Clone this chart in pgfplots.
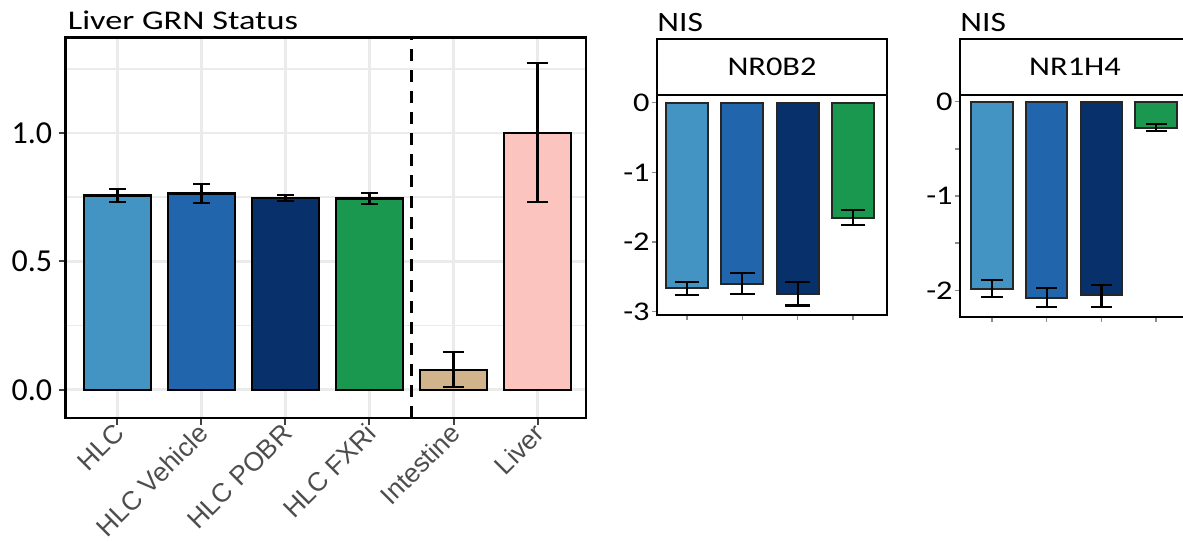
\documentclass[border=0pt]{standalone}
\usepackage{pgfplots}
\pgfplotsset{compat=1.18}
\usepackage{fontspec}
\setmainfont{Carlito}
\newfontfamily\arialfont{Liberation Sans}
\newfontfamily\panelfont[FakeStretch=1.2]{Carlito}
\newfontfamily\titlefont[FakeStretch=1.27]{Carlito}

\definecolor{cHLC}{HTML}{4393C3}
\definecolor{cVeh}{HTML}{2166AC}
\definecolor{cPOBR}{HTML}{08306B}
\definecolor{cFXR}{HTML}{1A9850}
\definecolor{cInt}{HTML}{D2B48C}
\definecolor{cLiv}{HTML}{FBC4BE}
\definecolor{gridgray}{HTML}{EBEBEB}
\definecolor{labgray}{HTML}{4D4D4D}
\definecolor{tickgray}{HTML}{8C8C8C}

\pgfplotsset{
  onebar/.style={bar shift=0pt, draw=black, line width=1.2pt},
  ebar/.style={
    error bars/y dir=both, error bars/y explicit,
    error bars/error bar style={line width=1.1pt, black},
    error bars/error mark options={rotate=90, mark size=#1, line width=1.1pt, black}},
  nispanel/.style={
    scale only axis, width=115pt, ybar, bar width=0.76,
    xtick={1,2,3,4}, xticklabels=\empty,
    axis line style={line width=1.3pt},
    tick pos=left,
    tick align=outside, major tick length=2.5pt, minor tick length=2.5pt,
    every tick/.style={tickgray, line width=0.7pt},
    yticklabel style={font=\panelfont\fontsize{13.5}{15}\selectfont, inner sep=1pt},
    clip=false},
  nisbar/.style={bar shift=0pt, draw=black!85, line width=1pt},
}

\begin{document}
\begin{tikzpicture}[x=1pt,y=1pt]
\useasboundingbox (0,0) rectangle (591.5,271);

% ---- Liver GRN status ----
\begin{axis}[
  at={(32.75pt,62pt)}, anchor=south west,
  scale only axis, width=260.25pt, height=190.25pt,
  ybar, bar width=0.80,
  xmin=-0.618, xmax=5.577, ymin=-0.11, ymax=1.372,
  xtick={0,...,5},
  xticklabels={HLC, HLC Vehicle, HLC POBR, HLC FXRi, Intestine, Liver},
  xticklabel style={rotate=45, anchor=north east, inner sep=0.5pt, yshift=3.5pt,
    font=\arialfont\fontsize{13.2}{14}\selectfont, text=labgray},
  ytick={0,0.5,1}, yticklabels={0.0,0.5,1.0},
  minor ytick={0.25,0.75,1.25},
  yticklabel style={font=\fontsize{16}{18}\selectfont, inner sep=2pt, xshift=-1pt},
  ymajorgrids, yminorgrids, xmajorgrids,
  major grid style={gridgray, line width=1.3pt},
  minor grid style={gridgray, line width=0.7pt},
  axis line style={line width=1.3pt},
  tick pos=left,
  tick align=outside, major tick length=3.5pt,
  xtick style={black!75, line width=1pt},
  ytick style={black!75, line width=1pt},
  minor tick length=0pt,
  clip=false,
]
\addplot[onebar, fill=cHLC, ebar=4.1pt]  coordinates {(0,0.757) += (0,0.024) -= (0,0.026)};
\addplot[onebar, fill=cVeh, ebar=4.1pt]  coordinates {(1,0.764) += (0,0.036) -= (0,0.037)};
\addplot[onebar, fill=cPOBR, ebar=4.1pt] coordinates {(2,0.747) += (0,0.012) -= (0,0.012)};
\addplot[onebar, fill=cFXR, ebar=4.1pt]  coordinates {(3,0.745) += (0,0.020) -= (0,0.021)};
\addplot[onebar, fill=cInt, ebar=5.3pt]  coordinates {(4,0.076) += (0,0.070) -= (0,0.065)};
\addplot[onebar, fill=cLiv, ebar=5.3pt]  coordinates {(5,1.000) += (0,0.273) -= (0,0.270)};
\draw[black, line width=1.4pt, dash pattern=on 6pt off 4.5pt]
  (axis cs:3.5,-0.11) -- (axis cs:3.5,1.372);
\node[anchor=base west, inner sep=0pt, font=\titlefont\fontsize{13.5}{15}\selectfont]
  at ([xshift=1pt,yshift=4pt]rel axis cs:0,1) {Liver GRN Status};
\end{axis}

% ---- NIS: NR0B2 ----
\begin{axis}[
  nispanel,
  at={(328.5pt,113.5pt)}, anchor=south west, height=110pt,
  xmin=0.457, xmax=4.615, ymin=-3.047, ymax=0.11,
  ytick={-3,-2,-1,0}, yticklabels={-3,-2,-1,0},
]
\addplot[nisbar, fill=cHLC, ebar=6.2pt]  coordinates {(1,-2.665) += (0,0.095) -= (0,0.095)};
\addplot[nisbar, fill=cVeh, ebar=6.2pt]  coordinates {(2,-2.60) += (0,0.16) -= (0,0.15)};
\addplot[nisbar, fill=cPOBR, ebar=6.2pt] coordinates {(3,-2.74) += (0,0.17) -= (0,0.17)};
\addplot[nisbar, fill=cFXR, ebar=6.2pt]  coordinates {(4,-1.66) += (0,0.12) -= (0,0.10)};
\draw[line width=1.3pt, fill=white] (rel axis cs:0,1) rectangle ([yshift=28pt]rel axis cs:1,1);
\node[font=\panelfont\fontsize{13.5}{16}\selectfont] at ([yshift=14pt]rel axis cs:0.5,1) {NR0B2};
\node[anchor=base west, inner sep=0pt, font=\panelfont\fontsize{14}{16}\selectfont]
  at ([yshift=31.5pt]rel axis cs:0,1) {NIS};
\end{axis}

% ---- NIS: NR1H4 ----
\begin{axis}[
  nispanel,
  at={(480pt,112.5pt)}, anchor=south west, height=111pt,
  xmin=0.415, xmax=4.62, ymin=-2.283, ymax=0.071,
  ytick={-2,-1,0}, yticklabels={-2,-1,0},
  minor ytick={-1.5,-0.5},
]
\addplot[nisbar, fill=cHLC, ebar=5.3pt]  coordinates {(1,-1.99) += (0,0.10) -= (0,0.08)};
\addplot[nisbar, fill=cVeh, ebar=5.3pt]  coordinates {(2,-2.08) += (0,0.105) -= (0,0.10)};
\addplot[nisbar, fill=cPOBR, ebar=5.3pt] coordinates {(3,-2.05) += (0,0.11) -= (0,0.13)};
\addplot[nisbar, fill=cFXR, ebar=5.3pt]  coordinates {(4,-0.276) += (0,0.036) -= (0,0.034)};
\draw[line width=1.3pt, fill=white] (rel axis cs:0,1) rectangle ([yshift=28pt]rel axis cs:1,1);
\node[font=\panelfont\fontsize{13.5}{16}\selectfont] at ([yshift=14pt]rel axis cs:0.5,1) {NR1H4};
\node[anchor=base west, inner sep=0pt, font=\panelfont\fontsize{14}{16}\selectfont]
  at ([yshift=31.5pt]rel axis cs:0,1) {NIS};
\end{axis}
\end{tikzpicture}
\end{document}
